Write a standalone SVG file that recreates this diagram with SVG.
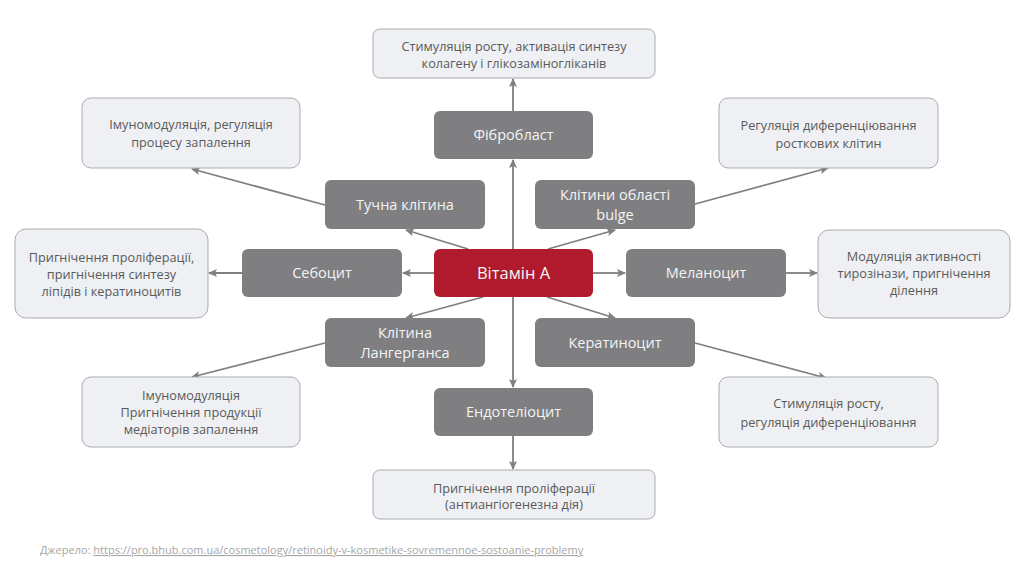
<svg xmlns="http://www.w3.org/2000/svg" width="1024" height="576" viewBox="0 0 1024 576">
<style>
.cell{fill:#7f7f82;}
.main{fill:#b01a2c;}
.res{fill:#eef0f3;stroke:#a9abae;stroke-width:1;}
.nt{font-family:"Open Sans","Noto Sans",sans-serif;font-size:14.5px;fill:#f4f4f4;text-anchor:middle;}
.big{font-size:16.5px;}
.rt{font-family:"Open Sans","Noto Sans",sans-serif;font-size:12.7px;fill:#5a5a5a;text-anchor:middle;}
.c{stroke:#7f7f82;stroke-width:1.8;fill:none;marker-end:url(#ah);}
.src{font-family:"Open Sans","Noto Sans",sans-serif;font-size:11px;fill:#a6a6a6;}
</style>
<defs>
<marker id="ah" markerWidth="9" markerHeight="8" refX="8" refY="4" orient="auto" markerUnits="userSpaceOnUse">
<path d="M0,0 L9,4 L0,8 L2,4 Z" fill="#7f7f82"/>
</marker>
</defs>
<rect width="1024" height="576" fill="#ffffff"/>
<g id="connectors">
<line class="c" x1="513" y1="249" x2="513" y2="160"/>
<line class="c" x1="513" y1="111" x2="513" y2="79"/>
<line class="c" x1="513" y1="297" x2="513" y2="387"/>
<line class="c" x1="513" y1="436" x2="513" y2="469"/>
<line class="c" x1="434" y1="273" x2="403" y2="273"/>
<line class="c" x1="242" y1="273" x2="209" y2="273"/>
<line class="c" x1="593" y1="273" x2="625" y2="273"/>
<line class="c" x1="786" y1="273" x2="817" y2="273"/>
<line class="c" x1="468" y1="249" x2="406" y2="230"/>
<line class="c" x1="548" y1="249" x2="615" y2="230"/>
<line class="c" x1="483" y1="297" x2="406" y2="318"/>
<line class="c" x1="547" y1="297" x2="615" y2="318"/>
<line class="c" x1="325" y1="205" x2="192" y2="169"/>
<line class="c" x1="695" y1="204" x2="828" y2="168"/>
<line class="c" x1="325" y1="343" x2="192" y2="377"/>
<line class="c" x1="695" y1="343" x2="826" y2="378"/>
</g>
<g id="vitamin-a"><rect class="main" x="434" y="249" width="159" height="48" rx="6"/><text class="nt big" x="513.5" y="279">Вітамін А</text></g>
<g id="fibroblast"><rect class="cell" x="434" y="111" width="159" height="48" rx="6"/><text class="nt" x="513.5" y="140">Фібробласт</text></g>
<g id="endotheliocyte"><rect class="cell" x="434" y="388" width="159" height="48" rx="6"/><text class="nt" x="513.5" y="417">Ендотеліоцит</text></g>
<g id="sebocyte"><rect class="cell" x="242" y="249" width="160" height="48" rx="6"/><text class="nt" x="322" y="278">Себоцит</text></g>
<g id="melanocyte"><rect class="cell" x="626" y="249" width="160" height="48" rx="6"/><text class="nt" x="706" y="278">Меланоцит</text></g>
<g id="mast-cell"><rect class="cell" x="325" y="180" width="160" height="49" rx="6"/><text class="nt" x="405" y="210">Тучна клітина</text></g>
<g id="bulge-cells"><rect class="cell" x="535" y="180" width="160" height="49" rx="6"/><text class="nt" x="615" y="200">Клітини області</text><text class="nt" x="615" y="220">bulge</text></g>
<g id="langerhans"><rect class="cell" x="325" y="318" width="160" height="49" rx="6"/><text class="nt" x="405" y="338">Клітина</text><text class="nt" x="405" y="358">Лангерганса</text></g>
<g id="keratinocyte"><rect class="cell" x="535" y="318" width="160" height="49" rx="6"/><text class="nt" x="615" y="348">Кератиноцит</text></g>
<g id="res-fibroblast"><rect class="res" x="373" y="29" width="282" height="49" rx="7"/><text class="rt" x="514" y="51">Стимуляція росту, активація синтезу</text><text class="rt" x="514" y="68">колагену і глікозаміногліканів</text></g>
<g id="res-mast"><rect class="res" x="82" y="98" width="218" height="70" rx="9"/><text class="rt" x="191" y="129">Імуномодуляція, регуляція</text><text class="rt" x="191" y="147">процесу запалення</text></g>
<g id="res-bulge"><rect class="res" x="719" y="98" width="219" height="70" rx="9"/><text class="rt" x="828.5" y="130">Регуляція диференціювання</text><text class="rt" x="828.5" y="148">росткових клітин</text></g>
<g id="res-sebocyte"><rect class="res" x="15" y="229" width="193" height="89" rx="11"/><text class="rt" x="111.5" y="262">Пригнічення проліферації,</text><text class="rt" x="111.5" y="279">пригнічення синтезу</text><text class="rt" x="111.5" y="296">ліпідів і кератиноцитів</text></g>
<g id="res-melanocyte"><rect class="res" x="818" y="230" width="192" height="88" rx="11"/><text class="rt" x="914" y="261">Модуляція активності</text><text class="rt" x="914" y="278">тирозінази, пригнічення</text><text class="rt" x="914" y="295">ділення</text></g>
<g id="res-langerhans"><rect class="res" x="82" y="377" width="218" height="70" rx="9"/><text class="rt" x="191" y="400">Імуномодуляція</text><text class="rt" x="191" y="417">Пригнічення продукції</text><text class="rt" x="191" y="434">медіаторів запалення</text></g>
<g id="res-keratinocyte"><rect class="res" x="719" y="377" width="219" height="70" rx="9"/><text class="rt" x="828.5" y="408">Стимуляція росту,</text><text class="rt" x="828.5" y="427">регуляція диференціювання</text></g>
<g id="res-endotheliocyte"><rect class="res" x="373" y="470" width="282" height="49" rx="7"/><text class="rt" x="514" y="493">Пригнічення проліферації</text><text class="rt" x="514" y="509">(антиангіогенезна дія)</text></g>
<g id="source"><text class="src" x="40" y="554">Джерело: <tspan text-decoration="underline">https://pro.bhub.com.ua/cosmetology/retinoidy-v-kosmetike-sovremennoe-sostoanie-problemy</tspan></text></g>
</svg>
